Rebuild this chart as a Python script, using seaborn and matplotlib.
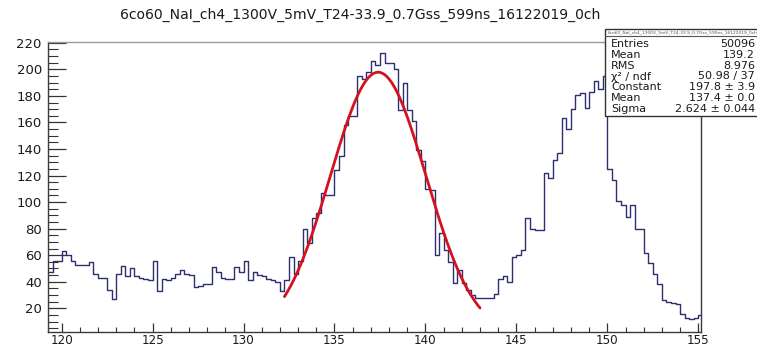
import numpy as np
import pandas as pd
import matplotlib
matplotlib.use("Agg")
import matplotlib.pyplot as plt
from matplotlib.patches import Rectangle
from matplotlib.lines import Line2D
from matplotlib.ticker import MultipleLocator
import seaborn as sns

# ---- histogram content -------------------------------------------------
title = "6co60_NaI_ch4_1300V_5mV_T24-33.9_0.7Gss_599ns_16122019_0ch"

bin_start = 119.25
bin_width = 0.25
counts = [
    47, 56, 56, 63, 60, 56, 53, 53, 53, 55,
    46, 43, 43, 34, 27, 46, 52, 44, 50, 44,
    43, 42, 41, 56, 33, 42, 41, 43, 46, 49,
    46, 45, 36, 37, 38, 38, 51, 47, 43, 42,
    42, 51, 47, 56, 41, 47, 45, 44, 42, 41,
    40, 33, 41, 59, 46, 56, 80, 69, 88, 92,
    107, 105, 105, 124, 135, 158, 165, 165, 195, 193,
    198, 206, 203, 212, 205, 205, 200, 169, 190, 169,
    161, 139, 131, 110, 109, 60, 77, 64, 55, 39,
    49, 39, 34, 30, 28, 28, 28, 28, 31, 42,
    44, 40, 59, 60, 64, 88, 80, 79, 79, 122,
    118, 132, 137, 163, 155, 170, 181, 182, 171, 183,
    191, 185, 195, 125, 117, 101, 98, 89, 98, 80,
    80, 62, 54, 46, 38, 26, 25, 24, 23, 16,
    13, 12, 13, 15,
]

# Gaussian fit result
fit_constant = 197.8
fit_mean = 137.4
fit_sigma = 2.624
fit_range = (132.25, 143.0)

# statistics box
stat_labels = ["Entries", "Mean", "RMS", "\u03c7\u00b2 / ndf", "Constant", "Mean", "Sigma"]
stat_values = ["50096", "139.2", "8.976", "50.98 / 37", "197.8 \u00b1 3.9",
               "137.4 \u00b1 0.0", "2.624 \u00b1 0.044"]

x_ticks = [120, 125, 130, 135, 140, 145, 150, 155]
y_ticks = [20, 40, 60, 80, 100, 120, 140, 160, 180, 200, 220]

# ---- drawing -------------------------------------------------------------
sns.set_theme(style="white")
plt.rcParams["font.family"] = ["DejaVu Sans"]

W, H = 757, 347
fig = plt.figure(figsize=(W / 100, H / 100), dpi=100)
fig.patch.set_facecolor("white")

def fx(px):
    return px / W

def fy(py):
    return 1 - py / H

ax_left, ax_right, ax_top, ax_bottom = 48, 701, 41.7, 331.7
ax = fig.add_axes([fx(ax_left), fy(ax_bottom), (ax_right - ax_left) / W,
                   (ax_bottom - ax_top) / H])
ax.set_facecolor("white")

edges = [bin_start + bin_width * k for k in range(len(counts) + 1)]
centers = [0.5 * (a + b) for a, b in zip(edges[:-1], edges[1:])]
df = pd.DataFrame({"energy": centers, "n": counts})
sns.histplot(data=df, x="energy", weights="n", bins=edges, element="step",
             fill=False, color="#2c3070", linewidth=1.0, ax=ax)

xf = np.linspace(fit_range[0], fit_range[1], 300)
yf = fit_constant * np.exp(-0.5 * ((xf - fit_mean) / fit_sigma) ** 2)
sns.lineplot(x=xf, y=yf, color="#d2121e", linewidth=2.0, ax=ax)

ax.set_xlim(119.25, 155.15)
ax.set_ylim(2.4, 220.8)
ax.set_xlabel("")
ax.set_ylabel("")
ax.set_xticks(x_ticks)
ax.set_yticks(y_ticks)
ax.xaxis.set_minor_locator(MultipleLocator(1))
ax.yaxis.set_minor_locator(MultipleLocator(5))
ax.tick_params(axis="x", which="major", direction="in", length=6.5, width=0.9,
               color="#333333", labelsize=8.6, labelcolor="#1a1a1a", pad=1.6,
               bottom=True, top=False)
ax.tick_params(axis="x", which="minor", direction="in", length=3.3, width=0.8,
               color="#333333", bottom=True, top=False)
ax.tick_params(axis="y", which="major", direction="in", length=13, width=0.9,
               color="#333333", labelsize=9.5, labelcolor="#1a1a1a", pad=4.5,
               left=True, right=False)
ax.tick_params(axis="y", which="minor", direction="in", length=7, width=0.8,
               color="#333333", left=True, right=False)
for side in ["left", "bottom", "right"]:
    ax.spines[side].set_color("#3a3a3a")
    ax.spines[side].set_linewidth(1.0)
ax.spines["top"].set_color("#9a9a9a")
ax.spines["top"].set_linewidth(1.0)

# title
fig.text(fx(360), fy(15), title, ha="center", va="center", fontsize=10.1,
         color="#1a1a1a")

# statistics box
box_l, box_t, box_b = 605, 29, 116
fig.patches.append(Rectangle((fx(box_l), fy(box_b)), (W + 10 - box_l) / W,
                             (box_b - box_t) / H, transform=fig.transFigure,
                             facecolor="white", edgecolor="#333333",
                             linewidth=1.0, zorder=5))
fig.lines.append(Line2D([fx(box_l), fx(W + 5)], [fy(36.3), fy(36.3)],
                        transform=fig.transFigure, color="#555555",
                        linewidth=0.8, zorder=6))
fig.text(fx(608), fy(32.7), title, ha="left", va="center", fontsize=3.2,
         color="#555555", zorder=7)

row_y = [44.3, 55.0, 65.7, 76.5, 87.2, 97.9, 108.7]
for lab, val, ry in zip(stat_labels, stat_values, row_y):
    fig.text(fx(611), fy(ry), lab, ha="left", va="center", fontsize=8.0,
             color="#1a1a1a", zorder=7)
    fig.text(fx(755), fy(ry), val, ha="right", va="center", fontsize=8.0,
             color="#1a1a1a", zorder=7)

fig.savefig("out.png", dpi=100, facecolor="white")
